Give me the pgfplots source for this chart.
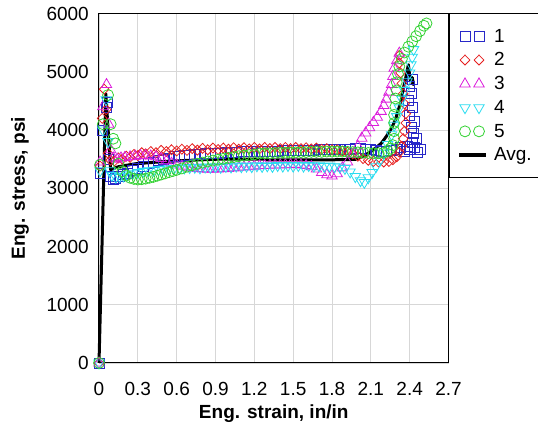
\documentclass[border=0pt]{standalone}
\usepackage{fontspec}
\setmainfont{Liberation Sans}
\usepackage{pgfplots}
\usepackage{pgfplotstable}
\pgfplotsset{compat=1.18}
\definecolor{c1}{RGB}{40,40,200}
\definecolor{c2}{RGB}{230,30,30}
\definecolor{c3}{RGB}{220,30,220}
\definecolor{c4}{RGB}{40,220,240}
\definecolor{c5}{RGB}{50,210,50}
\definecolor{gridc}{RGB}{215,215,215}

\pgfplotstableread{
x y
0 0
0.008 3250
0.03 4000
0.055 4380
0.062 4480
0.075 3500
0.09 3200
0.11 3150
0.13 3170
0.16 3200
0.19 3230
0.22 3260
0.26 3300
0.30 3340
0.34 3380
0.38 3420
0.42 3450
0.46 3480
0.50 3500
0.54 3520
0.58 3540
0.62 3550
0.66 3560
0.70 3570
0.74 3575
0.78 3580
0.82 3590
0.86 3595
0.90 3600
0.94 3605
0.98 3610
1.02 3615
1.06 3620
1.10 3625
1.14 3625
1.18 3630
1.22 3630
1.26 3635
1.30 3640
1.34 3640
1.38 3640
1.42 3645
1.46 3645
1.50 3650
1.54 3650
1.58 3650
1.62 3655
1.66 3655
1.70 3660
1.74 3660
1.78 3665
1.82 3665
1.86 3670
1.90 3670
1.94 3675
1.98 3680
2.02 3680
2.06 3670
2.10 3660
2.14 3650
2.18 3640
2.22 3640
2.26 3650
2.30 3660
2.33 3700
2.36 3640
2.38 3720
2.40 3660
2.42 3780
2.44 3700
2.46 3620
2.48 3660
2.45 3850
2.43 3950
2.41 4050
2.44 4150
2.40 4250
2.42 4380
2.39 4500
2.41 4620
2.40 4750
2.42 4870
}\sA

\pgfplotstableread{
x y
0 0
0.008 3380
0.025 4200
0.04 4700
0.055 4350
0.07 3600
0.09 3480
0.12 3470
0.15 3520
0.18 3500
0.21 3550
0.24 3530
0.27 3580
0.30 3560
0.33 3610
0.36 3590
0.40 3630
0.44 3610
0.48 3650
0.52 3630
0.56 3660
0.60 3640
0.64 3670
0.68 3650
0.72 3680
0.76 3655
0.80 3685
0.84 3660
0.88 3690
0.92 3665
0.96 3690
1.00 3670
1.04 3695
1.08 3670
1.12 3695
1.16 3675
1.20 3700
1.24 3675
1.28 3700
1.32 3680
1.36 3700
1.40 3680
1.44 3700
1.48 3680
1.52 3700
1.56 3680
1.60 3695
1.64 3675
1.68 3690
1.72 3670
1.76 3680
1.80 3660
1.84 3660
1.88 3640
1.92 3620
1.96 3590
2.00 3550
2.04 3510
2.08 3480
2.12 3460
2.16 3450
2.20 3450
2.24 3460
2.27 3490
2.30 3540
2.32 3620
2.34 3720
2.35 3850
2.36 3980
2.37 4120
2.37 4280
2.36 4450
2.35 4620
2.34 4800
2.33 4980
2.32 5150
2.32 5280
}\sB

\pgfplotstableread{
x y
0 0
0.008 3450
0.03 4400
0.058 4780
0.075 4100
0.09 3660
0.11 3520
0.14 3500
0.17 3520
0.20 3530
0.24 3540
0.28 3550
0.32 3560
0.36 3560
0.40 3555
0.44 3540
0.48 3510
0.52 3470
0.56 3430
0.60 3400
0.64 3380
0.68 3360
0.72 3350
0.76 3340
0.80 3330
0.84 3325
0.88 3325
0.92 3330
0.96 3335
1.00 3340
1.04 3350
1.08 3360
1.12 3365
1.16 3370
1.20 3380
1.24 3385
1.28 3390
1.32 3395
1.36 3400
1.40 3400
1.44 3405
1.48 3405
1.52 3410
1.56 3400
1.60 3390
1.64 3370
1.68 3330
1.72 3270
1.76 3230
1.80 3210
1.84 3250
1.88 3350
1.92 3450
1.96 3580
2.00 3720
2.03 3860
2.06 3950
2.09 4040
2.12 4130
2.15 4220
2.18 4320
2.20 4420
2.22 4530
2.24 4650
2.26 4780
2.27 4920
2.28 5060
2.30 5190
2.32 5320
}\sC

\pgfplotstableread{
x y
0 0
0.008 3300
0.03 4000
0.055 4520
0.07 3800
0.085 3300
0.10 3220
0.13 3190
0.16 3200
0.19 3210
0.22 3230
0.26 3250
0.30 3270
0.34 3290
0.38 3300
0.42 3310
0.46 3320
0.50 3330
0.54 3335
0.58 3340
0.62 3345
0.66 3350
0.70 3355
0.74 3360
0.78 3350
0.82 3365
0.86 3360
0.90 3370
0.94 3360
0.98 3375
1.02 3365
1.06 3380
1.10 3370
1.14 3380
1.18 3370
1.22 3385
1.26 3375
1.30 3385
1.34 3375
1.38 3390
1.42 3380
1.46 3390
1.50 3380
1.54 3390
1.58 3380
1.62 3390
1.66 3380
1.70 3385
1.74 3375
1.78 3380
1.82 3370
1.86 3365
1.90 3340
1.94 3280
1.98 3200
2.02 3130
2.05 3100
2.08 3180
2.11 3270
2.14 3370
2.17 3480
2.20 3600
2.23 3750
2.26 3920
2.28 4080
2.30 4230
2.32 4380
2.34 4530
2.36 4680
2.38 4830
2.40 4980
2.41 5120
2.42 5250
2.43 5380
}\sD

\pgfplotstableread{
x y
0 0
0.008 3400
0.03 4100
0.07 4600
0.09 4100
0.11 3850
0.127 3770
0.15 3420
0.18 3290
0.21 3220
0.24 3180
0.27 3160
0.30 3150
0.33 3155
0.36 3165
0.39 3180
0.42 3195
0.45 3215
0.48 3235
0.51 3255
0.54 3275
0.57 3295
0.60 3315
0.64 3340
0.68 3370
0.72 3395
0.76 3420
0.80 3440
0.84 3460
0.88 3475
0.92 3490
0.96 3505
1.00 3520
1.04 3535
1.08 3550
1.12 3560
1.16 3570
1.20 3580
1.24 3595
1.28 3600
1.32 3600
1.36 3605
1.40 3610
1.44 3610
1.48 3615
1.52 3615
1.56 3620
1.60 3620
1.64 3625
1.68 3625
1.72 3625
1.76 3630
1.80 3630
1.84 3630
1.88 3630
1.92 3625
1.96 3620
2.00 3615
2.04 3610
2.08 3605
2.12 3600
2.16 3600
2.20 3610
2.23 3640
2.25 3680
2.27 3740
2.28 3850
2.28 3980
2.28 4120
2.28 4260
2.29 4400
2.29 4540
2.30 4680
2.30 4820
2.31 4960
2.32 5090
2.34 5220
2.36 5330
2.39 5430
2.42 5520
2.45 5610
2.48 5700
2.51 5790
2.53 5830
}\sE

\pgfplotstableread{
x y
0 0
0.053 4620
0.09 3320
0.15 3370
0.28 3420
0.54 3465
0.93 3500
1.27 3500
1.30 3485
1.71 3485
1.98 3495
2.05 3560
2.12 3660
2.18 3770
2.22 3890
2.26 4030
2.29 4180
2.33 4470
2.35 4700
2.37 4900
2.39 5120
2.405 4850
2.42 4900
2.43 4780
2.415 4820
}\sAvg

\pgfplotsset{
  mk/.style={only marks,
    legend image code/.code={\pgfpathrectangle{\pgfpoint{-6pt}{-6pt}}{\pgfpoint{27pt}{12pt}}\pgfusepath{use as bounding box}%
      \draw[##1] plot[only marks] coordinates {(0pt,0pt) (14pt,0pt)};}},
  avgleg/.style={legend image code/.code={\pgfpathrectangle{\pgfpoint{-6pt}{-6pt}}{\pgfpoint{27pt}{12pt}}\pgfusepath{use as bounding box}%
      \draw[##1, line width=3.2pt] (-6pt,0pt) -- (21pt,0pt);}},
}

\begin{document}
\begin{tikzpicture}
\begin{axis}[name=ax, scale only axis, width=349.5pt, height=349.5pt,
  xmin=0, xmax=2.7, ymin=0, ymax=6000,
  xtick={0,0.3,0.6,0.9,1.2,1.5,1.8,2.1,2.4,2.7},
  ytick={0,1000,2000,3000,4000,5000,6000},
  grid=major, major grid style={gridc, line width=0.8pt},
  axis line style={black, line width=1pt},
  major tick length=0pt,
  tick label style={font=\fontsize{19}{22}\selectfont},
  /pgf/number format/assume math mode=true,
  /pgf/number format/1000 sep={},
  xticklabel style={anchor=north, inner sep=0pt, yshift=-19pt},
  yticklabel style={anchor=east, inner sep=0pt, xshift=-10pt},
  xlabel={Eng. strain, in/in}, ylabel={Eng. stress, psi},
  label style={font=\bfseries\fontsize{19}{22}\selectfont},
  xlabel style={at={(rel axis cs:0.5,0)}, anchor=center, inner sep=0pt, yshift=-51pt},
  ylabel style={at={(rel axis cs:0,0.5)}, anchor=center, inner sep=0pt, yshift=79pt},
  legend style={at={(rel axis cs:1,1)}, anchor=north west, draw=black, line width=1pt,
    font=\fontsize{19}{22}\selectfont, inner xsep=10pt, inner ysep=13pt, row sep=5.1pt,
    /tikz/every odd column/.append style={column sep=6pt}},
  legend cell align=left,
  clip=false,
]
\addplot[mk, color=c1, mark=square, mark size=5pt, mark options={line width=0.8pt, solid, fill=none}] table {\sA};
\addlegendentry{1}
\addplot[mk, color=c2, mark=diamond, mark size=5pt, mark options={line width=0.8pt, solid, fill=none, xscale=1.3}] table {\sB};
\addlegendentry{2}
\addplot[mk, color=c3, mark=triangle, mark size=6pt, mark options={line width=0.8pt, solid, fill=none}] table {\sC};
\addlegendentry{3}
\addplot[mk, color=c4, mark=triangle, mark size=6pt, mark options={line width=0.8pt, solid, fill=none, rotate=180}] table {\sD};
\addlegendentry{4}
\addplot[mk, color=c5, mark=o, mark size=5.5pt, mark options={line width=0.8pt, solid, fill=none}] table {\sE};
\addlegendentry{5}
\addplot[black, line width=3pt, no marks, line join=round, avgleg] table {\sAvg};
\addlegendentry{Avg.}
\end{axis}
\pgfresetboundingbox
\path ([shift={(-99pt,-64pt)}]ax.south west) rectangle ([shift={(89.5pt,13.5pt)}]ax.north east);
\end{tikzpicture}
\end{document}
